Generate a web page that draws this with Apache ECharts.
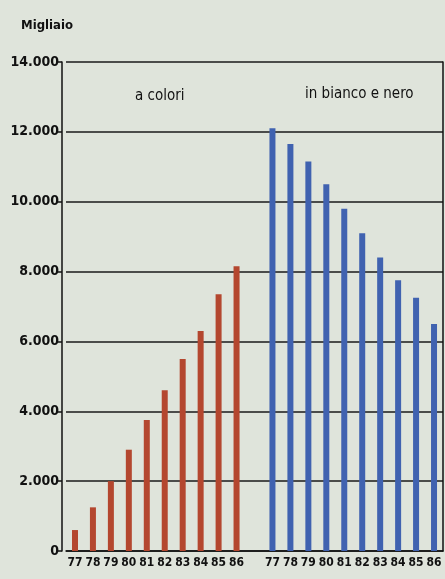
<!DOCTYPE html>
<html>
<head>
<meta charset="utf-8">
<script src="https://cdn.jsdelivr.net/npm/echarts@6/dist/echarts.min.js"></script>
<style>
  html, body { margin: 0; padding: 0; background: #dfe4db; }
  #chart { width: 445px; height: 579px; }
</style>
</head>
<body>
<div id="chart"></div>
<script>
  // anni (stessi per i due gruppi)
  var anni = ['77', '78', '79', '80', '81', '82', '83', '84', '85', '86'];
  // televisori a colori, migliaia
  var aColori = [600, 1250, 2000, 2900, 3750, 4600, 5500, 6300, 7350, 8150];
  // televisori in bianco e nero, migliaia
  var biancoNero = [12100, 11650, 11150, 10500, 9800, 9100, 8400, 7750, 7250, 6500];
  var yTicks = [0, 2000, 4000, 6000, 8000, 10000, 12000, 14000];

  var font = "'Liberation Sans Narrow', 'DejaVu Sans Condensed', sans-serif";

  // categorie: gruppo a colori, uno spazio vuoto, gruppo bianco e nero
  var cats = [];
  var dataRed = [];
  var dataBlue = [];
  for (var i = 0; i < anni.length; i++) {
    cats.push('a' + anni[i]);
    dataRed.push(aColori[i]);
    dataBlue.push(null);
  }
  cats.push('gap');
  dataRed.push(null);
  dataBlue.push(null);
  for (var j = 0; j < anni.length; j++) {
    cats.push('b' + anni[j]);
    dataRed.push(null);
    dataBlue.push(biancoNero[j]);
  }

  var myChart = echarts.init(document.getElementById('chart'));
  var option = {
    backgroundColor: '#dfe4db',
    animation: false,
    title: [
      { text: 'Migliaio', left: 16, top: 14,
        textStyle: { fontFamily: font, fontSize: 13, fontWeight: 'bold', color: '#111' } },
      { text: 'a colori', left: 130, top: 84,
        textStyle: { fontFamily: font, fontSize: 15, fontWeight: 'normal', color: '#111' } },
      { text: 'in bianco e nero', left: 300, top: 82,
        textStyle: { fontFamily: font, fontSize: 15, fontWeight: 'normal', color: '#111' } }
    ],
    grid: {
      left: 66, right: 2, top: 62, bottom: 28
    },
    xAxis: {
      type: 'category',
      data: cats,
      axisLine: { lineStyle: { color: '#111', width: 1.5 } },
      axisTick: { show: false },
      axisLabel: {
        interval: 0, margin: 6, color: '#111',
        fontFamily: font, fontSize: 12, fontWeight: 'bold',
        formatter: function (v) { return v === 'gap' ? '' : v.slice(1); }
      }
    },
    yAxis: [{
      type: 'value',
      min: 0, max: 14000, interval: 2000,
      offset: 4,
      axisLine: { show: true, lineStyle: { color: '#111', width: 1.5 } },
      axisTick: { show: true, length: 5, lineStyle: { color: '#111', width: 1.5 } },
      axisLabel: {
        margin: 3, color: '#111', fontFamily: font, fontSize: 14, fontWeight: 'bold',
        formatter: function (v) {
          if (yTicks.indexOf(v) < 0) return '';
          return v === 0 ? '0' : (v / 1000) + '.000';
        }
      },
      splitLine: { show: true, lineStyle: { color: '#1a1a1a', width: 1.5 } }
    }, {
      // bordo destro del riquadro
      type: 'value', position: 'right',
      min: 0, max: 14000, interval: 2000,
      axisLine: { show: true, lineStyle: { color: '#111', width: 1.5 } },
      axisTick: { show: false },
      axisLabel: { show: false },
      splitLine: { show: false }
    }],
    series: [
      { type: 'bar', data: dataRed, barWidth: 6, barGap: '-100%',
        itemStyle: { color: '#b4472f' } },
      { type: 'bar', data: dataBlue, barWidth: 6,
        itemStyle: { color: '#4062b0' } }
    ]
  };
  myChart.setOption(option);
</script>
</body>
</html>
